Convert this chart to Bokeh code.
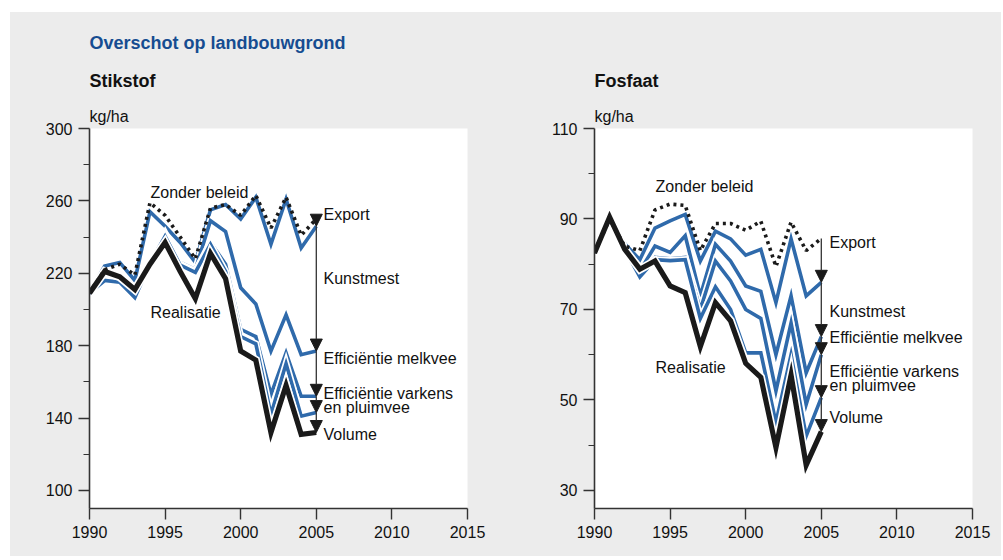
from bokeh.plotting import figure
from bokeh.models import FixedTicker, Label, Arrow, NormalHead, Range1d, Title
from bokeh.layouts import row
from bokeh.embed import file_html
from bokeh.resources import INLINE

# ---------------- data ----------------
years = list(range(1990, 2006))

stik_zonder = [209, 222, 225, 219, 259, 252, 240, 228, 256, 258, 252, 263, 245, 262, 241, 250]
stik_export = [209, 224, 226, 216, 254, 246, 237, 226, 255, 258, 250, 262, 236, 261, 234, 246]
stik_kunst  = [209, 217, 216, 208, 227, 242, 226, 222, 249, 243, 212, 203, 177, 197, 175, 177]
stik_melk   = [209, 216.5, 215.5, 207, 226, 241, 225, 221, 237, 225, 189, 185, 153, 176, 152, 152]
stik_vark   = [209, 216, 215, 206.5, 225.5, 240.5, 224.5, 220.5, 236, 221, 185, 181, 142, 170, 141, 143]
stik_real   = [209, 221, 218, 211, 225, 237, 221, 206, 231, 217, 177, 172, 132, 158, 131, 132]

fos_zonder = [82.5, 90.0, 84.0, 83.0, 92.0, 93.3, 93.0, 83.0, 89.0, 89.0, 87.5, 89.5, 79.5, 89.3, 83.0, 85.7]
fos_export = [82.5, 90.5, 84.5, 81.0, 88.0, 89.6, 91.0, 80.7, 87.3, 85.6, 82.0, 83.3, 71.5, 85.6, 73.0, 76.0]
fos_kunst  = [82.5, 90.5, 83.5, 78.5, 84.0, 82.6, 86.3, 73.0, 84.4, 80.7, 75.2, 74.0, 60.0, 73.0, 56.0, 64.0]
fos_melk   = [82.5, 90.5, 83.5, 77.5, 81.5, 81.2, 81.5, 70.0, 80.7, 76.3, 70.0, 68.0, 52.0, 67.0, 49.0, 60.0]
fos_vark   = [82.5, 90.5, 83.3, 77.2, 81.0, 80.8, 81.0, 68.0, 75.0, 70.0, 60.4, 60.4, 45.0, 60.0, 42.0, 50.5]
fos_real   = [82.5, 90.4, 83.3, 78.9, 80.7, 75.2, 73.7, 61.8, 71.5, 67.5, 58.1, 55.0, 39.5, 55.5, 35.6, 43.0]

x_ticks = [1990, 1995, 2000, 2005, 2010, 2015]
stik_ticks = [100, 140, 180, 220, 260, 300]
stik_minor = [120, 160, 200, 240, 280]
fos_ticks = [30, 50, 70, 90, 110]
fos_minor = [40, 60, 80, 100]

main_title = "Overschot op landbouwgrond"
unit = "kg/ha"
effect_labels = ["Export", "Kunstmest", "Efficiëntie melkvee", "Efficiëntie varkens", "en pluimvee", "Volume"]

# ---------------- style ----------------
FONT = "Liberation Sans"
BG = "#ececec"
BLUE = "#2f6aab"
DARK = "#1a1a1a"
AX = "#333333"

PAGE_LEFT = 10
FIG_TOP = 12          # page y of figure top
FRAME_TOP = 128       # page y of frame top
FRAME_H = 380
FRAME_W = 378
HEIGHT = 544
LABEL_SHIFT = -6


def title_obj(text, size, bold, color, standoff):
    return Title(text=text, text_font=FONT, text_font_size=size,
                 text_font_style="bold" if bold else "normal",
                 text_color=color, align="left", standoff=standoff)


def make_panel(name, width, frame_left_page, fig_left_page, y0, y1, ticks, minor,
               series, text_pos, with_main_title):
    zonder, export, kunst, melk, vark, real = series
    mb_left = frame_left_page - fig_left_page
    mb_right = width - mb_left - FRAME_W
    p = figure(width=width, height=HEIGHT, output_backend="svg", toolbar_location=None,
               x_range=Range1d(1990, 2015), y_range=Range1d(y0, y1),
               min_border_left=mb_left, min_border_right=mb_right,
               min_border_top=FRAME_TOP - FIG_TOP,
               min_border_bottom=HEIGHT - (FRAME_TOP - FIG_TOP) - FRAME_H)
    p.background_fill_color = "white"
    p.border_fill_color = BG
    p.outline_line_color = None
    p.grid.visible = False

    ppx = FRAME_W / 25.0
    ppy = FRAME_H / (y1 - y0)

    def dx(px):
        return 1990 + (px - frame_left_page) / ppx

    def dy(py):
        return y1 - (py - FRAME_TOP) / ppy

    # titles above the frame: added ones stack outward from the frame,
    # the figure's own title is the outermost
    p.add_layout(title_obj(unit, "16px", False, "#111111", 7), "above")
    if with_main_title:
        p.add_layout(title_obj(name, "18px", True, "#111111", 23), "above")
        outer = (main_title, "#164c91", 9)
    else:
        outer = (name, "#111111", 23)
    p.title.text = outer[0]
    p.title.text_font = FONT
    p.title.text_font_size = "18px"
    p.title.text_font_style = "bold"
    p.title.text_color = outer[1]
    p.title.align = "left"
    p.title.standoff = outer[2]

    # axes
    p.xaxis.ticker = FixedTicker(ticks=x_ticks)
    p.yaxis.ticker = FixedTicker(ticks=ticks, minor_ticks=minor)
    for ax in (p.xaxis[0], p.yaxis[0]):
        ax.axis_line_color = AX
        ax.axis_line_width = 1.6
        ax.major_tick_line_color = AX
        ax.major_tick_line_width = 1.4
        ax.major_tick_in = 0
        ax.major_tick_out = 11
        ax.minor_tick_in = 0
        ax.minor_tick_out = 6
        ax.minor_tick_line_color = AX
        ax.minor_tick_line_width = 1.2
        ax.major_label_text_font = FONT
        ax.major_label_text_font_size = "16px"
        ax.major_label_text_color = "#111111"
        ax.major_label_standoff = 6
    p.xaxis.minor_tick_line_color = None

    # lines: blue with white casing, black realisatie on top, dotted last
    for s in (export, kunst, melk, vark):
        p.line(years, s, line_color="white", line_width=7, line_join="miter")
        p.line(years, s, line_color=BLUE, line_width=3.6, line_join="miter")
    p.line(years, real, line_color="white", line_width=8.5, line_join="miter")
    p.line(years, real, line_color=DARK, line_width=5.2, line_join="miter")
    p.line(years, zonder, line_color=DARK, line_width=3.6, line_dash="3 4")

    # arrows at the final year
    chain = [zonder, export, kunst, melk, vark, real]
    for a, b in zip(chain[:-1], chain[1:]):
        p.add_layout(Arrow(x_start=years[-1], y_start=a[-1], x_end=years[-1], y_end=b[-1],
                           line_color=AX, line_width=1.3,
                           end=NormalHead(size=12, fill_color=DARK, line_color=DARK)))

    def lab(text, px, py):
        p.add_layout(Label(x=dx(px), y=dy(py + LABEL_SHIFT), text=text, text_font=FONT,
                           text_font_size="16px", text_color="#111111",
                           text_align="left", text_baseline="alphabetic"))

    for text, (px, py) in zip(["Zonder beleid", "Realisatie"] + effect_labels, text_pos):
        lab(text, px, py)
    return p


left = make_panel("Stikstof", 490, 89, PAGE_LEFT, 90, 300, stik_ticks, stik_minor,
                  (stik_zonder, stik_export, stik_kunst, stik_melk, stik_vark, stik_real),
                  [(150, 198), (150, 318), (323, 220), (323, 284), (323, 364),
                   (323, 399), (323, 413), (323, 440)], True)
right = make_panel("Fosfaat", 501, 594, PAGE_LEFT + 490, 26, 110, fos_ticks, fos_minor,
                   (fos_zonder, fos_export, fos_kunst, fos_melk, fos_vark, fos_real),
                   [(655, 192), (655, 373), (829, 248), (829, 317), (829, 343),
                    (829, 377), (829, 391), (829, 423)], False)

layout = row(left, right, margin=(FIG_TOP, 0, 0, PAGE_LEFT), spacing=0,
             styles={"background-color": BG})

with open("out.html", "w", encoding="utf-8") as f:
    f.write(file_html(layout, INLINE))
